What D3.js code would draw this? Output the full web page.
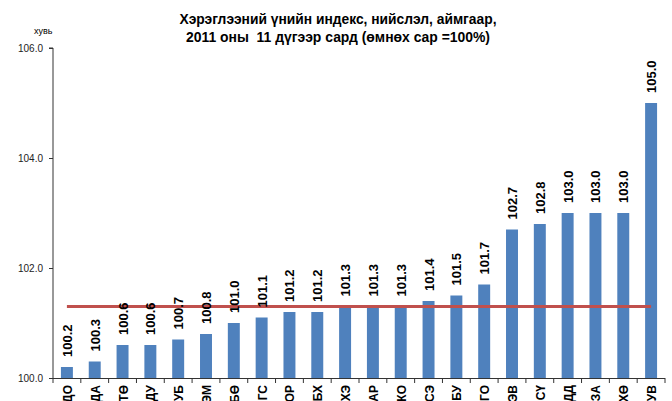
<!DOCTYPE html>
<html>
<head>
<meta charset="utf-8">
<script src="https://cdn.jsdelivr.net/npm/d3@7"></script>
<style>
body { margin: 0; background: #fff; }
text { font-family: "Liberation Sans", Arial, sans-serif; }
</style>
</head>
<body>
<div id="chart"></div>
<script>
var w = 672, h = 401;
var margin = {top: 48, right: 7, bottom: 23, left: 53};

var categories = ["ДО","ДА","ТӨ","ДУ","УБ","ЭМ","БӨ","ГС","ОР","БХ","ХЭ","АР","КО","СЭ","БУ","ГО","ЭВ","СҮ","ДД","ЗА","ХӨ","УВ"];
var values = [100.2,100.3,100.6,100.6,100.7,100.8,101.0,101.1,101.2,101.2,101.3,101.3,101.3,101.4,101.5,101.7,102.7,102.8,103.0,103.0,103.0,105.0];
var average = 101.3;
var yTicks = [100, 102, 104, 106];
var titleLines = ["Хэрэглээний үнийн индекс, нийслэл, аймгаар,", "2011 оны  11 дүгээр сард (өмнөх сар =100%)"];

var svg = d3.select("#chart")
			.append("svg")
			.attr("width", w)
			.attr("height", h);

// band for the bars themselves
var xScale = d3.scaleBand()
			   .domain(categories)
			   .range([margin.left, w - margin.right])
			   .paddingInner(0.57)
			   .paddingOuter(0.285);

// band for tick marks / category centres
var xTickScale = d3.scaleBand()
			   .domain(categories)
			   .range([margin.left, w - margin.right]);

var yScale = d3.scaleLinear()
			   .domain([100, 106])
			   .range([h - margin.bottom, margin.top]);

// bars
svg.selectAll("rect.bar")
   .data(values)
   .enter()
   .append("rect")
   .attr("class", "bar")
   .attr("x", (d, i) => xScale(categories[i]))
   .attr("y", d => yScale(d))
   .attr("width", xScale.bandwidth())
   .attr("height", d => yScale(100) - yScale(d))
   .attr("fill", "#4F81BD");

// average line
svg.append("line")
   .attr("x1", xTickScale(categories[0]) + xTickScale.bandwidth() / 2)
   .attr("x2", xTickScale(categories[categories.length - 1]) + xTickScale.bandwidth() / 2)
   .attr("y1", yScale(average))
   .attr("y2", yScale(average))
   .attr("stroke", "#C0504D")
   .attr("stroke-width", 3);

// value labels
svg.selectAll("text.val")
   .data(values)
   .enter()
   .append("text")
   .attr("class", "val")
   .attr("transform", (d, i) => "translate(" + (xScale(categories[i]) + xScale.bandwidth() / 2 + 5) + "," + (yScale(d) - 10) + ") rotate(-90)")
   .style("font-size", "13px")
   .style("font-weight", "bold")
   .text(d => d.toFixed(1));

// y axis
var yAxis = d3.axisLeft(yScale)
			  .tickValues(yTicks)
			  .tickSize(4)
			  .tickFormat(d3.format(".1f"));

var gy = svg.append("g")
   .attr("transform", "translate(" + margin.left + ",0)")
   .call(yAxis);
gy.select(".domain").attr("stroke", "#333").attr("d", "M-4," + yScale(106) + "H0V" + yScale(100));
gy.selectAll(".tick line").attr("stroke", "#333");
gy.selectAll("text").style("font-size", "10px").attr("fill", "#222").attr("x", -10);

// x axis
svg.append("line")
   .attr("x1", margin.left)
   .attr("x2", w - margin.right)
   .attr("y1", yScale(100) + 0.5)
   .attr("y2", yScale(100) + 0.5)
   .attr("stroke", "#333");

svg.selectAll("line.xtick")
   .data(categories.concat(["end"]))
   .enter()
   .append("line")
   .attr("class", "xtick")
   .attr("x1", (d, i) => i < categories.length ? xTickScale(d) : w - margin.right)
   .attr("x2", (d, i) => i < categories.length ? xTickScale(d) : w - margin.right)
   .attr("y1", yScale(100))
   .attr("y2", yScale(100) + 5)
   .attr("stroke", "#333");

svg.selectAll("text.cat")
   .data(categories)
   .enter()
   .append("text")
   .attr("class", "cat")
   .attr("transform", d => "translate(" + (xTickScale(d) + xTickScale.bandwidth() / 2 + 5) + "," + (yScale(100) + 7) + ") rotate(-90)")
   .attr("text-anchor", "end")
   .style("font-size", "12px")
   .style("font-weight", "bold")
   .text(d => d);

// unit label
svg.append("text")
   .attr("x", 34)
   .attr("y", 34)
   .style("font-size", "9px")
   .text("хувь");

// title
svg.append("text")
   .attr("x", 338)
   .attr("y", 24)
   .attr("text-anchor", "middle")
   .attr("textLength", 317)
   .attr("lengthAdjust", "spacingAndGlyphs")
   .style("font-size", "14px")
   .style("font-weight", "bold")
   .text(titleLines[0]);

svg.append("text")
   .attr("x", 338)
   .attr("y", 42)
   .attr("text-anchor", "middle")
   .attr("textLength", 304)
   .attr("lengthAdjust", "spacingAndGlyphs")
   .style("font-size", "14px")
   .style("font-weight", "bold")
   .style("white-space", "pre")
   .text(titleLines[1]);
</script>
</body>
</html>
